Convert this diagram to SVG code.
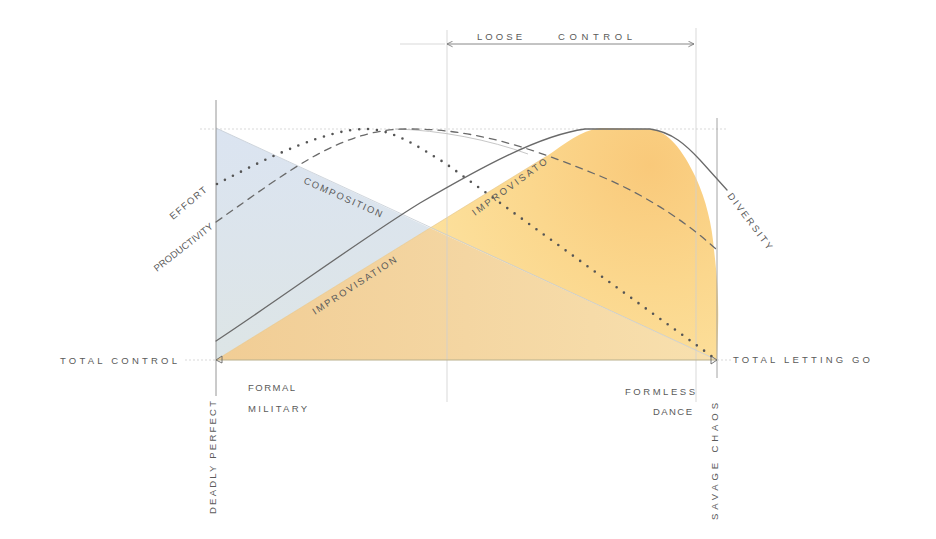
<svg xmlns="http://www.w3.org/2000/svg" width="936" height="539" viewBox="0 0 936 539">
<defs>
<style>
.t{font-family:"Liberation Sans",Arial,sans-serif;font-size:9.5px;fill:#5a5a5a}
.guide{stroke:#cfcfcf;stroke-width:0.8;fill:none}
.pen{stroke:#6a6a6a;stroke-width:1.3;fill:none;stroke-linecap:round}
</style>
<linearGradient id="gBlue" x1="0" y1="0" x2="0" y2="1">
<stop offset="0" stop-color="#dbe4f1"/><stop offset="1" stop-color="#dde5e6"/>
</linearGradient>
<radialGradient id="gYel" cx="650" cy="165" r="270" gradientUnits="userSpaceOnUse">
<stop offset="0" stop-color="#f9c97a"/><stop offset="0.45" stop-color="#fbd78d"/><stop offset="1" stop-color="#fde4a2"/>
</radialGradient>
<linearGradient id="gTan" x1="216" y1="0" x2="717" y2="0" gradientUnits="userSpaceOnUse">
<stop offset="0" stop-color="#f1cd95"/><stop offset="0.5" stop-color="#f4d6a2"/><stop offset="1" stop-color="#f8e0ae"/>
</linearGradient>
<marker id="ah" viewBox="0 0 10 10" refX="9" refY="5" markerWidth="7" markerHeight="7" orient="auto-start-reverse">
<path d="M1,1 L9,5 L1,9" fill="none" stroke="#777" stroke-width="1.2"/>
</marker>
</defs>
<rect width="936" height="539" fill="#ffffff"/>

<g id="washes">
<path id="blue" d="M216,128 L216,360 L430,228 Z" fill="url(#gBlue)"/>
<path id="yellow" d="M430,228 L547,156 C566,143 580,131 600,128 L650,129 C668,131 683,150 696,178 C706,200 712,225 714,250 C717,275 719,300 718,330 L717,360 Z" fill="url(#gYel)"/>
<path id="overlap" d="M216,360 L430,228 L717,360 Z" fill="url(#gTan)"/>
<path d="M216,128 L717,360" stroke="#c4ccd4" stroke-width="0.8" fill="none"/>
<path d="M216,360 L430,228 L547,156" stroke="#e3c48a" stroke-width="0.6" fill="none"/>
</g>

<g id="guides">
<line x1="200" y1="129" x2="728" y2="129" class="guide" stroke-dasharray="2 2"/>
<line x1="216" y1="100" x2="216" y2="396" stroke="#8a8a8a" stroke-width="0.9"/>
<line x1="717" y1="118" x2="717" y2="378" stroke="#9a9a9a" stroke-width="0.9"/>
<line x1="447" y1="30" x2="447" y2="402" class="guide"/>
<line x1="696" y1="28" x2="696" y2="402" class="guide"/>
<line x1="185" y1="360" x2="216" y2="360" class="guide" stroke-dasharray="2 2"/>
<line x1="717" y1="360" x2="732" y2="360" class="guide" stroke-dasharray="2 2"/>
<line x1="216" y1="360" x2="717" y2="360" stroke="#b9b08c" stroke-width="1"/>
<path d="M222,356 L216,360 L222,363 Z" fill="none" stroke="#666" stroke-width="0.9"/>
<path d="M711,356 L717,360 L711,364 Z" fill="none" stroke="#666" stroke-width="0.9"/>
</g>

<g id="connectors">
<line x1="400" y1="44" x2="445" y2="44" class="guide"/>
<line id="loose-arrow" x1="447" y1="44" x2="694" y2="44" stroke="#888" stroke-width="1" marker-start="url(#ah)" marker-end="url(#ah)"/>
<path id="faint" d="M395,129 C440,130 490,140 528,154" stroke="#b8b8b8" stroke-width="0.8" fill="none"/>
<path id="diversity" class="pen" d="M216,341 C290,292 360,240 420,203 C480,168 540,135 585,129 L650,129 C672,132 686,145 700,160 L727,190"/>
<path id="productivity" class="pen" stroke-dasharray="7 6" d="M216,222 C290,170 340,130 405,129 C480,128 540,152 600,176 C650,197 690,225 717,250"/>
<path id="effort" d="M217,184 C270,156 330,128 367,129 C395,130 420,148 445,163 L717,360" fill="none" stroke="#555" stroke-width="2.6" stroke-linecap="round" stroke-dasharray="0 9"/>
</g>

<g id="labels">
<text class="t" x="477" y="40" textLength="45" lengthAdjust="spacing">LOOSE</text>
<text class="t" x="558" y="40" textLength="74" lengthAdjust="spacing">CONTROL</text>
<text class="t" x="60" y="364" textLength="117" lengthAdjust="spacing">TOTAL CONTROL</text>
<text class="t" x="733" y="363" textLength="137" lengthAdjust="spacing">TOTAL LETTING GO</text>
<text class="t" x="248" y="391" textLength="47" lengthAdjust="spacing">FORMAL</text>
<text class="t" x="248" y="412" textLength="59" lengthAdjust="spacing">MILITARY</text>
<text class="t" x="625" y="395" textLength="70" lengthAdjust="spacing">FORMLESS</text>
<text class="t" x="653" y="415" textLength="39" lengthAdjust="spacing">DANCE</text>
<text class="t" transform="translate(216,514) rotate(-90)" textLength="113" lengthAdjust="spacing">DEADLY PERFECT</text>
<text class="t" transform="translate(718,520) rotate(-90)" textLength="117" lengthAdjust="spacing">SAVAGE CHAOS</text>
<text class="t" transform="translate(173,220) rotate(-40)" textLength="45" lengthAdjust="spacing">EFFORT</text>
<text class="t" transform="translate(157,272) rotate(-38)" textLength="72" lengthAdjust="spacing">PRODUCTIVITY</text>
<text class="t" transform="translate(303,183) rotate(24)" textLength="85" lengthAdjust="spacing">COMPOSITION</text>
<text class="t" transform="translate(315,315) rotate(-33)" textLength="98" lengthAdjust="spacing">IMPROVISATION</text>
<text class="t" transform="translate(475,216) rotate(-36)" textLength="90" lengthAdjust="spacing">IMPROVISATO</text>
<text class="t" transform="translate(727,196) rotate(53)" textLength="68" lengthAdjust="spacing">DIVERSITY</text>
</g>
</svg>
